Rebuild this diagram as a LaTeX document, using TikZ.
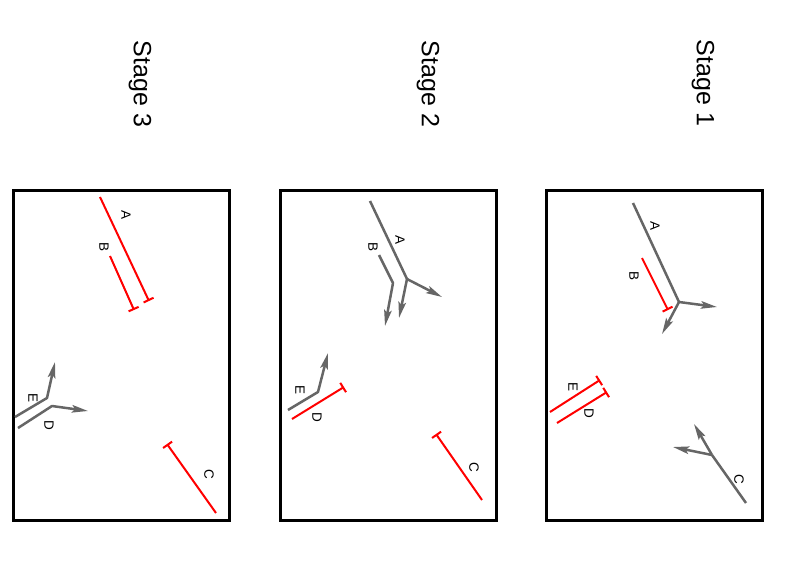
\documentclass[tikz,border=0pt]{standalone}
\usepackage{fontspec}
\setmainfont{Liberation Sans}
\usetikzlibrary{arrows.meta}
\definecolor{pathgray}{HTML}{666666}
\tikzset{
  frame/.style={draw=black, line width=3pt},
  stagelabel/.style={rotate=-90, font=\fontsize{25}{30}\selectfont},
  seglabel/.style={rotate=-90, font=\fontsize{13.5}{15}\selectfont},
  grayseg/.style={draw=pathgray, line width=2.5pt, line join=round},
  grayarrow/.style={grayseg, -{Stealth[length=16pt,width=7.5pt,inset=3pt]}},
  redseg/.style={draw=red, line width=2pt, -{Bar[width=11pt]}}
}
\begin{document}
\begin{tikzpicture}[x=1pt, y=-1pt]
  \useasboundingbox (0,0) rectangle (788,573);
  % frames and titles
  \draw[frame] (546,190) rectangle (762,520);
  \draw[frame] (280,190) rectangle (496,520);
  \draw[frame] (13,190) rectangle (229,520);
  \node[stagelabel] (stage1) at (703,83) {Stage 1};
  \node[stagelabel] (stage2) at (428,84) {Stage 2};
  \node[stagelabel] (stage3) at (140,84) {Stage 3};

  % Stage 1
  \coordinate (s1A0) at (633,203);
  \coordinate (s1Aj) at (679,302);
  \coordinate (s1Aa) at (717,307);
  \coordinate (s1Ab) at (662,334);
  \draw[grayseg] (s1A0) -- (s1Aj);
  \draw[grayarrow] (s1Aj) -- (s1Aa);
  \draw[grayarrow] (s1Aj) -- (s1Ab);
  \node[seglabel] (s1A) at (655,226) {A};
  \coordinate (s1B0) at (642,258);
  \coordinate (s1B1) at (668,310);
  \draw[redseg] (s1B0) -- (s1B1);
  \node[seglabel] (s1B) at (634,276) {B};
  \coordinate (s1E0) at (550,412);
  \coordinate (s1E1) at (600,380);
  \draw[redseg] (s1E0) -- (s1E1);
  \node[seglabel] (s1E) at (573,387) {E};
  \coordinate (s1D0) at (557,423);
  \coordinate (s1D1) at (607,392);
  \draw[redseg] (s1D0) -- (s1D1);
  \node[seglabel] (s1D) at (589,413) {D};
  \coordinate (s1C0) at (746,503);
  \coordinate (s1Cj) at (712,455);
  \coordinate (s1Ca) at (694,424);
  \coordinate (s1Cb) at (673,447);
  \draw[grayseg] (s1C0) -- (s1Cj);
  \draw[grayarrow] (s1Cj) -- (s1Ca);
  \draw[grayarrow] (s1Cj) -- (s1Cb);
  \node[seglabel] (s1C) at (739,479) {C};

  % Stage 2
  \coordinate (s2A0) at (370,201);
  \coordinate (s2Aj) at (407,279);
  \coordinate (s2Aa) at (442,297);
  \coordinate (s2Ab) at (399,318);
  \draw[grayseg] (s2A0) -- (s2Aj);
  \draw[grayarrow] (s2Aj) -- (s2Aa);
  \draw[grayarrow] (s2Aj) -- (s2Ab);
  \node[seglabel] (s2A) at (400,240) {A};
  \coordinate (s2B0) at (379,255);
  \coordinate (s2Bj) at (393,283);
  \coordinate (s2Ba) at (385,326);
  \draw[grayarrow] (s2B0) -- (s2Bj) -- (s2Ba);
  \node[seglabel] (s2B) at (373,247) {B};
  \coordinate (s2E0) at (288,410);
  \coordinate (s2Ej) at (318,392);
  \coordinate (s2Ea) at (328,353);
  \draw[grayarrow] (s2E0) -- (s2Ej) -- (s2Ea);
  \node[seglabel] (s2E) at (300,390) {E};
  \coordinate (s2D0) at (292,419);
  \coordinate (s2D1) at (344,387);
  \draw[redseg] (s2D0) -- (s2D1);
  \node[seglabel] (s2D) at (317,417) {D};
  \coordinate (s2C0) at (482,500);
  \coordinate (s2C1) at (436,434);
  \draw[redseg] (s2C0) -- (s2C1);
  \node[seglabel] (s2C) at (474,467) {C};

  % Stage 3
  \coordinate (s3A0) at (100,197);
  \coordinate (s3A1) at (149,301);
  \draw[redseg] (s3A0) -- (s3A1);
  \node[seglabel] (s3A) at (126,215) {A};
  \coordinate (s3B0) at (110,256);
  \coordinate (s3B1) at (134,310);
  \draw[redseg] (s3B0) -- (s3B1);
  \node[seglabel] (s3B) at (104,247) {B};
  \coordinate (s3E0) at (15,417);
  \coordinate (s3Ej) at (47,398);
  \coordinate (s3Ea) at (55,362);
  \draw[grayarrow] (s3E0) -- (s3Ej) -- (s3Ea);
  \node[seglabel] (s3E) at (33,398) {E};
  \coordinate (s3D0) at (18,428);
  \coordinate (s3Dj) at (52,406);
  \coordinate (s3Da) at (88,411);
  \draw[grayarrow] (s3D0) -- (s3Dj) -- (s3Da);
  \node[seglabel] (s3D) at (49,425) {D};
  \coordinate (s3C0) at (216,513);
  \coordinate (s3C1) at (167,444);
  \draw[redseg] (s3C0) -- (s3C1);
  \node[seglabel] (s3C) at (209,474) {C};
\end{tikzpicture}
\end{document}
